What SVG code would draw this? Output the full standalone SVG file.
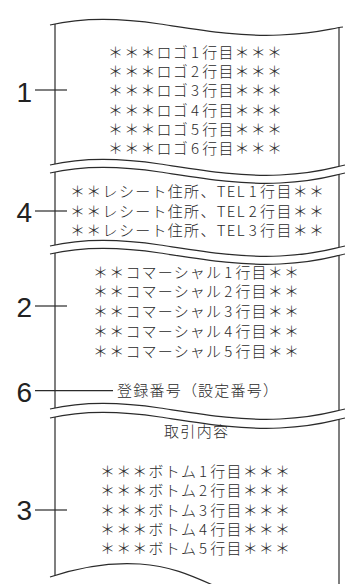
<svg xmlns="http://www.w3.org/2000/svg" xmlns:xlink="http://www.w3.org/1999/xlink" width="346" height="584" viewBox="0 0 346 584">
<style>
.ln{fill:none;stroke:#2b2b2b;stroke-width:1.2}
.t{font-family:"Noto Sans CJK JP","Noto Sans",sans-serif;font-size:15px;font-weight:300;fill:#2a2a2a;text-anchor:middle}
.lb{font-family:"Liberation Sans",Arial,sans-serif;font-size:28px;fill:#222}
</style>
<defs>
<path id="wave" d="M0,0 c30,-7 70,-7 110,-1 s80,13 120,11 s50,-7 65,-10"/>
</defs>
<rect width="346" height="584" fill="#fff"/>
<g id="paper" class="ln">
<path d="M50,25 c30,-7 70,-7 110,-1 s80,13 120,11 s48,-6 63,-8"/>
<use xlink:href="#wave" x="50" y="165"/>
<use xlink:href="#wave" x="50" y="173"/>
<use xlink:href="#wave" x="50" y="246"/>
<use xlink:href="#wave" x="50" y="254"/>
<use xlink:href="#wave" x="50" y="409"/>
<use xlink:href="#wave" x="50" y="418"/>
<path d="M50,577 C80,567 110,562 140,564 S190,575 215,586"/>
<path d="M55,24 V164 M55,172 V245 M55,253 V408 M55,417 V575.5"/>
<path d="M339,27 V166 M339,174 V247 M339,255 V410 M339,419 V584"/>
</g>
<g id="connectors" class="ln">
<path d="M35,90 H67"/>
<path d="M35,211 H67"/>
<path d="M35,306 H67"/>
<path d="M35,390.7 H113"/>
<path d="M35,510 H67"/>
</g>
<g id="label-1"><text class="lb" x="16.5" y="101.7">1</text></g>
<g id="label-4"><text class="lb" x="16.5" y="221.5">4</text></g>
<g id="label-2"><text class="lb" x="16.5" y="316.5">2</text></g>
<g id="label-6"><text class="lb" x="16.5" y="401.5">6</text></g>
<g id="label-3"><text class="lb" x="16.5" y="520">3</text></g>
<g id="section-1-logo">
<text class="t" x="195" y="57.8" textLength="174" lengthAdjust="spacing">＊＊＊ロゴ<tspan dx="2">1</tspan><tspan dx="2">行目＊＊＊</tspan></text>
<text class="t" x="195" y="77.1" textLength="174" lengthAdjust="spacing">＊＊＊ロゴ<tspan dx="2">2</tspan><tspan dx="2">行目＊＊＊</tspan></text>
<text class="t" x="195" y="96.4" textLength="174" lengthAdjust="spacing">＊＊＊ロゴ<tspan dx="2">3</tspan><tspan dx="2">行目＊＊＊</tspan></text>
<text class="t" x="195" y="115.7" textLength="174" lengthAdjust="spacing">＊＊＊ロゴ<tspan dx="2">4</tspan><tspan dx="2">行目＊＊＊</tspan></text>
<text class="t" x="195" y="135" textLength="174" lengthAdjust="spacing">＊＊＊ロゴ<tspan dx="2">5</tspan><tspan dx="2">行目＊＊＊</tspan></text>
<text class="t" x="195" y="154.3" textLength="174" lengthAdjust="spacing">＊＊＊ロゴ<tspan dx="2">6</tspan><tspan dx="2">行目＊＊＊</tspan></text>
</g>
<g id="section-4-receipt">
<text class="t" x="197" y="197.2" textLength="254" lengthAdjust="spacing">＊＊レシート住所、TEL<tspan dx="3">1</tspan><tspan dx="2">行目＊＊</tspan></text>
<text class="t" x="197" y="216.5" textLength="254" lengthAdjust="spacing">＊＊レシート住所、TEL<tspan dx="3">2</tspan><tspan dx="2">行目＊＊</tspan></text>
<text class="t" x="197" y="235.8" textLength="254" lengthAdjust="spacing">＊＊レシート住所、TEL<tspan dx="3">3</tspan><tspan dx="2">行目＊＊</tspan></text>
</g>
<g id="section-2-commercial">
<text class="t" x="196" y="277.5" textLength="206" lengthAdjust="spacing">＊＊コマーシャル<tspan dx="2">1</tspan><tspan dx="2">行目＊＊</tspan></text>
<text class="t" x="196" y="297.2" textLength="206" lengthAdjust="spacing">＊＊コマーシャル<tspan dx="2">2</tspan><tspan dx="2">行目＊＊</tspan></text>
<text class="t" x="196" y="317" textLength="206" lengthAdjust="spacing">＊＊コマーシャル<tspan dx="2">3</tspan><tspan dx="2">行目＊＊</tspan></text>
<text class="t" x="196" y="336.7" textLength="206" lengthAdjust="spacing">＊＊コマーシャル<tspan dx="2">4</tspan><tspan dx="2">行目＊＊</tspan></text>
<text class="t" x="196" y="356.5" textLength="206" lengthAdjust="spacing">＊＊コマーシャル<tspan dx="2">5</tspan><tspan dx="2">行目＊＊</tspan></text>
</g>
<g id="section-6-registration">
<text class="t" x="197.5" y="396" textLength="161" lengthAdjust="spacing">登録番号（設定番号）</text>
</g>
<g id="section-3-bottom">
<text class="t" x="196" y="437" textLength="64" lengthAdjust="spacing">取引内容</text>
<text class="t" x="195" y="477.2" textLength="190" lengthAdjust="spacing">＊＊＊ボトム<tspan dx="2">1</tspan><tspan dx="2">行目＊＊＊</tspan></text>
<text class="t" x="195" y="496.3" textLength="190" lengthAdjust="spacing">＊＊＊ボトム<tspan dx="2">2</tspan><tspan dx="2">行目＊＊＊</tspan></text>
<text class="t" x="195" y="515.5" textLength="190" lengthAdjust="spacing">＊＊＊ボトム<tspan dx="2">3</tspan><tspan dx="2">行目＊＊＊</tspan></text>
<text class="t" x="195" y="534.8" textLength="190" lengthAdjust="spacing">＊＊＊ボトム<tspan dx="2">4</tspan><tspan dx="2">行目＊＊＊</tspan></text>
<text class="t" x="195" y="554" textLength="190" lengthAdjust="spacing">＊＊＊ボトム<tspan dx="2">5</tspan><tspan dx="2">行目＊＊＊</tspan></text>
</g>
</svg>
